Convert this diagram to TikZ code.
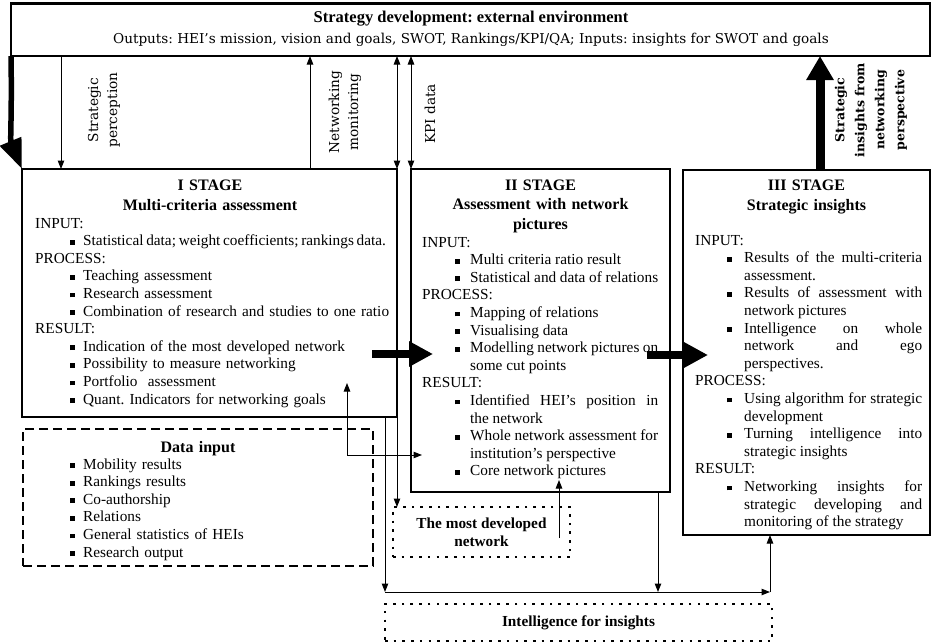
\documentclass[tikz,border=0pt]{standalone}
\usepackage{fontspec}
\setmainfont{Liberation Serif}
\newfontfamily\lblfont{DejaVu Serif}
\usetikzlibrary{arrows.meta}
\frenchspacing

% list layout inside the stage boxes
\newlength\bulx
\newlength\txtx
\newcommand\sqb{\rule[1pt]{4.8pt}{4.8pt}}
\newcommand\hdf[1]{\noindent#1}
\newcommand\hd[1]{\par\noindent#1}
\newcommand\itmf{\hangindent=\txtx\hangafter=1\noindent\hspace*{\bulx}\makebox[\dimexpr\txtx-\bulx\relax][l]{\sqb}\ignorespaces}
\newcommand\itm{\par\itmf}
\newcommand\bodysize{\fontsize{15.3}{17.6}\selectfont\frenchspacing\hyphenpenalty=10000\exhyphenpenalty=10000\hbadness=10000\tolerance=10000}

\tikzset{
  frame/.style={draw, line width=2.8pt, outer sep=0pt, inner sep=0pt},
  envbox/.style={draw, line width=1.6pt, outer sep=0pt, inner sep=0pt},
  dashbox/.style={draw, line width=2.6pt, dash pattern=on 9pt off 5pt, outer sep=0pt, inner sep=0pt},
  dotbox/.style={draw, line width=2.6pt, dash pattern=on 2.6pt off 6.1pt, outer sep=0pt, inner sep=0pt,
    align=center, font=\bfseries\fontsize{15.3}{17.6}\selectfont},
  stagehead/.style={anchor=base, inner sep=0pt, text width=250pt, align=center,
    font=\bfseries\fontsize{16}{20}\selectfont},
  stagebody/.style={anchor=base west, inner sep=0pt, font=\bodysize},
  lbl/.style={rotate=90, inner sep=0pt, align=center, font=\lblfont\fontsize{13.7}{19}\selectfont},
  conn/.style={line width=1pt, -{Triangle[length=8.5pt,width=6.5pt]}},
  conn2/.style={line width=1pt, {Triangle[length=8.5pt,width=6.5pt]}-{Triangle[length=8.5pt,width=6.5pt]}},
  bigarrow/.style={line width=7.5pt, -{Triangle[length=24pt,width=24pt]}},
}

\begin{document}
\begin{tikzpicture}[x=1pt,y=-1pt]
\useasboundingbox (0,0) rectangle (932,643);

% ---------- boxes ----------
\node[envbox, minimum width=919pt, minimum height=53pt, anchor=north west] (env) at (11,3) {};
\draw[line width=3pt] (env.north west) -- (env.north east);
\node[frame, minimum width=375pt, minimum height=248pt, anchor=north west] (s1) at (22,169) {};
\node[frame, minimum width=259pt, minimum height=323pt, anchor=north west] (s2) at (411,169) {};
\node[frame, minimum width=247pt, minimum height=365pt, anchor=north west] (s3) at (683,170) {};
\node[dashbox, minimum width=350pt, minimum height=137pt, anchor=north west] (din) at (23,429) {};
\node[dotbox, minimum width=177pt, minimum height=50pt, anchor=north west] (mdn) at (393,507) {The most developed\\network};
\node[dotbox, minimum width=387pt, minimum height=37pt, anchor=north west] (ifi) at (385,604) {Intelligence for insights};

% ---------- external environment ----------
\node[anchor=base, inner sep=0pt, font=\bfseries\fontsize{16.5}{20}\selectfont] (envtitle) at (471,22)
  {Strategy development: external environment};
\node[anchor=base, inner sep=0pt, font=\lblfont\fontsize{13.6}{18}\selectfont] (envsub) at (471,43)
  {Outputs: HEI’s mission, vision and goals, SWOT, Rankings/KPI/QA; Inputs: insights for SWOT and goals};

% ---------- stage I ----------
\node[stagehead] (s1head) at (210,190) {I STAGE\\Multi-criteria assessment};
\node[stagebody, text width=380pt, align=left] (s1txt) at (35,228) {\setlength\bulx{35pt}\setlength\txtx{48pt}%
\hdf{INPUT:}
\itm {\spaceskip=0.18em plus 0.05em Statistical data; weight coefficients; rankings data.}
\hd{PROCESS:}
\itm Teaching assessment
\itm Research assessment
\itm Combination of research and studies to one ratio
\hd{RESULT:}
\itm Indication of the most developed network
\itm Possibility to measure networking
\itm Portfolio\ \ assessment
\itm Quant. Indicators for networking goals\par};

% ---------- stage II ----------
\node[stagehead, font=\bfseries\fontsize{16}{19.7}\selectfont] (s2head) at (540.5,190) {II STAGE\\Assessment with network\\pictures};
\node[stagebody, text width=236pt, align=justify] (s2txt) at (422,247) {\setlength\bulx{33pt}\setlength\txtx{48pt}%
\hdf{INPUT:}
\itm Multi criteria ratio result
\itm Statistical and data of relations
\hd{PROCESS:}
\itm Mapping of relations
\itm Visualising data
\itm Modelling network pictures on\linebreak some cut points
\hd{RESULT:}
\itm Identified HEI’s position in\linebreak the network
\itm Whole network assessment for\linebreak institution’s perspective
\itm Core network pictures\par};

% ---------- stage III ----------
\node[stagehead] (s3head) at (806.5,190) {III STAGE\\Strategic insights};
\node[stagebody, text width=227pt, align=justify] (s3txt) at (695,245) {\setlength\bulx{32pt}\setlength\txtx{49pt}%
\hdf{INPUT:}
\itm Results of the multi-criteria\linebreak assessment.
\itm Results of assessment with\linebreak network pictures
\itm Intelligence on whole\linebreak network and ego\linebreak perspectives.
\hd{PROCESS:}
\itm Using algorithm for strategic\linebreak development
\itm Turning intelligence into\linebreak strategic insights
\hd{RESULT:}
\itm Networking insights for\linebreak strategic developing and\linebreak monitoring of the strategy\par};

% ---------- data input ----------
\node[stagehead] (dinhead) at (198,452) {Data input};
\node[stagebody, text width=300pt, align=left] (dintxt) at (35,469) {\setlength\bulx{35pt}\setlength\txtx{48pt}%
\itmf Mobility results
\itm Rankings results
\itm Co-authorship
\itm Relations
\itm General statistics of HEIs
\itm Research output\par};

% ---------- arrow labels ----------
\node[lbl] (lblsp) at (104,110) {Strategic\\perception};
\node[lbl] (lblnm) at (345,112) {Networking\\monitoring};
\node[lbl] (lblkpi) at (430,114) {KPI data};
\node[lbl, font=\lblfont\bfseries\fontsize{12.5}{20}\selectfont] (lblsi) at (871,110)
  {Strategic\\insights from\\networking\\perspective};

% ---------- connector points ----------
\coordinate (spB) at (61,169);
\coordinate (nmB) at (310,169);
\coordinate (lcUp) at (347,383);
\coordinate (lc) at (347,455);
\coordinate (lcRight) at (422,455);
\coordinate (fb) at (385,417);
\coordinate (fc) at (385,592);
\coordinate (fr) at (770,592);
\coordinate (s2out) at (658,492);
\coordinate (mdA) at (559,538);
\coordinate (mdB) at (559,480);
\coordinate (b1a) at (372,354);
\coordinate (b1b) at (433,354);
\coordinate (b2a) at (647,355);
\coordinate (b2b) at (708,355);
\coordinate (siX) at (820,170);

% ---------- thin connectors ----------
\draw[conn] (env.south -| spB) -- (spB);
\draw[conn] (nmB) -- (env.south -| nmB);
\draw[conn2] (env.south -| s1.north east) -- (s1.north east);
\draw[conn2] (env.south -| s2.north west) -- (s2.north west);
\draw[conn] (s1.south east) -- (s1.south east |- mdn.north);
\draw[conn2] (lcUp) -- (lc) -- (lcRight);
\draw[conn] (fb) -- (fc);
\draw[conn] (fc) -- (fr);
\draw[conn] (fr) -- (s3.south -| fr);
\draw[conn] (s2out) -- (s2out |- fc);
\draw[conn] (mdA) -- (mdB);

% ---------- thick arrows ----------
\draw[line width=5.5pt, -{Triangle[length=30pt,width=22pt]}]
  (env.south west) .. controls (12,115) and (10,140) .. (s1.north west);
\draw[bigarrow] (b1a) -- (b1b);
\draw[bigarrow] (b2a) -- (b2b);
\draw[line width=9pt, -{Triangle[length=24pt,width=26pt]}] (s3.north -| siX) -- (env.south -| siX);
\end{tikzpicture}
\end{document}
